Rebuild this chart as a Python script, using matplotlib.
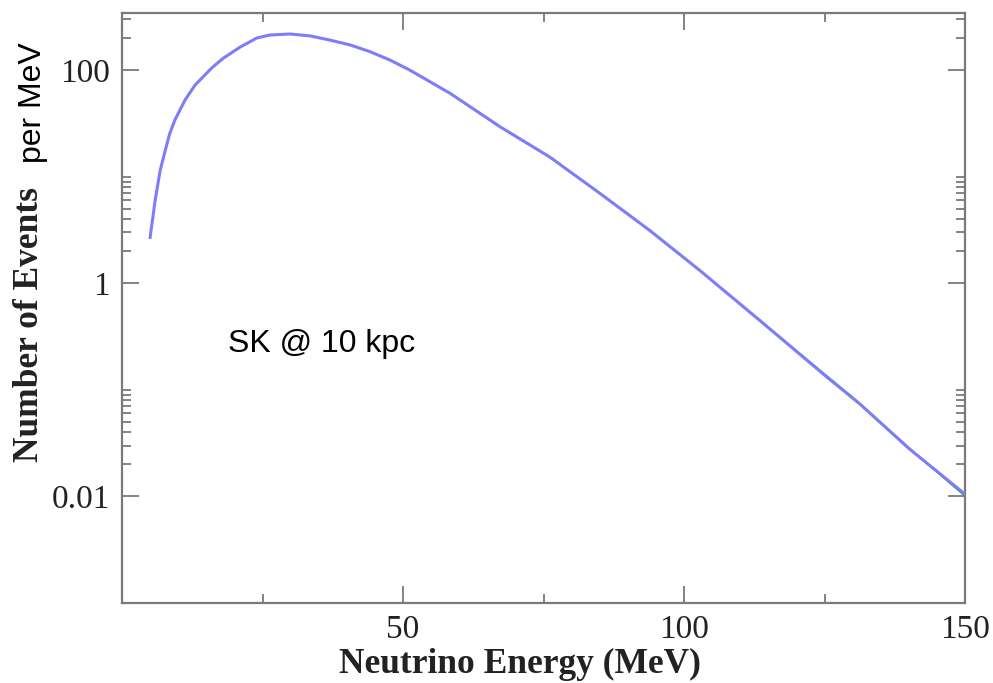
import numpy as np
import matplotlib
matplotlib.use("Agg")
import matplotlib.pyplot as plt
from matplotlib.ticker import FixedLocator, NullFormatter

# Data (events per MeV vs neutrino energy)
energy_blue = [5.0, 5.9, 6.8, 7.7, 8.5, 9.4, 11.2, 13.0, 16.0, 18.0, 21.0, 24.0,
               26.3, 29.9, 33.5, 37.0, 40.6, 44.1, 47.7, 51.2, 58.4, 67.3, 76.1,
               85.1, 93.9, 102.8, 113.5, 125.4, 131.3, 140.0, 150.0]
events_blue = [2.69, 6.0, 11.5, 17.7, 25.4, 33.9, 52.2, 72.3, 105, 129, 164, 200,
               213, 218, 209, 191, 172, 149, 124, 100, 60.4, 29.3, 15.3,
               6.93, 3.13, 1.32, 0.447, 0.132, 0.0736, 0.0282, 0.0105]
energy_green = [110.0, 120.0, 130.0, 140.0, 150.0]
events_green = [0.64, 0.232, 0.085, 0.0286, 0.0101]

xticks_major = [50, 100, 150]
xticks_minor = [25, 75, 125]
yticks_major = [0.01, 1, 100]
ytick_labels = ["0.01", "1", "100"]
yticks_minor = [0.02, 0.03, 0.04, 0.05, 0.06, 0.07, 0.08, 0.09, 0.1,
                2, 3, 4, 5, 6, 7, 8, 9, 10, 200, 300]

W, H = 993, 683
fig = plt.figure(figsize=(W / 100, H / 100), dpi=100)
ax = fig.add_axes([122 / W, 1 - 603 / H, (965 - 122) / W, (603 - 13) / H])

ax.plot(energy_green, events_green, color="#1fa81f", lw=1.3, zorder=2)
ax.plot(energy_blue, events_blue, color="#7d7dfa", lw=2.2, zorder=3,
        solid_joinstyle="round")

ax.set_yscale("log")
ax.set_xlim(0, 150)
ax.set_ylim(0.001, 343)

ax.xaxis.set_major_locator(FixedLocator(xticks_major))
ax.xaxis.set_minor_locator(FixedLocator(xticks_minor))
ax.xaxis.set_minor_formatter(NullFormatter())
ax.set_xticklabels([str(v) for v in xticks_major])
ax.yaxis.set_major_locator(FixedLocator(yticks_major))
ax.yaxis.set_minor_locator(FixedLocator(yticks_minor))
ax.yaxis.set_minor_formatter(NullFormatter())
ax.set_yticklabels(ytick_labels)

spine_col = "#7a7a7a"
for s in ax.spines.values():
    s.set_color(spine_col)
    s.set_linewidth(1.6)

ax.tick_params(which="both", direction="in", top=True, right=True,
               color=spine_col, width=1.3)
ax.tick_params(which="major", length=12.5, pad=8.5)
ax.tick_params(which="minor", length=6.5)
for lab in ax.get_xticklabels() + ax.get_yticklabels():
    lab.set_fontfamily("Liberation Serif")
    lab.set_fontsize(24)
    lab.set_color("#222222")

fig.text(520 / W, 10 / H, "Neutrino Energy (MeV)", family="Liberation Serif",
         fontweight="bold", fontsize=25.5, ha="center", va="baseline",
         color="#222222")
fig.text(30 / W, 1 - 325 / H, "Number of Events", family="Liberation Serif",
         fontweight="bold", fontsize=25.5, rotation=90, ha="center", va="center",
         color="#222222")
fig.text(33 / W, 1 - 103 / H, "per MeV", family="Liberation Sans",
         fontsize=23, rotation=90, ha="center", va="center", color="black")
fig.text(228 / W, 1 - 352 / H, "SK @ 10 kpc", family="Liberation Sans",
         fontsize=23, ha="left", va="baseline", color="black")

fig.savefig("out.png", dpi=100)
